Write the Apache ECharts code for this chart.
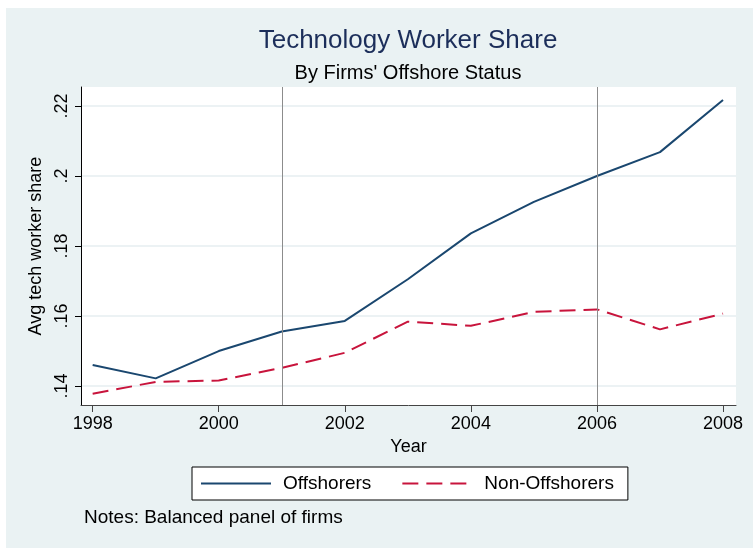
<!DOCTYPE html>
<html>
<head>
<meta charset="utf-8">
<script src="https://cdn.jsdelivr.net/npm/echarts@6/dist/echarts.min.js"></script>
<style>
  html, body { margin: 0; padding: 0; background: #fff; }
  #chart { width: 753px; height: 548px; }
</style>
</head>
<body>
<div id="chart"></div>
<script>
var years = [1998, 1999, 2000, 2001, 2002, 2003, 2004, 2005, 2006, 2007, 2008];
var offshorers = [0.1460, 0.1422, 0.1500, 0.1556, 0.1586, 0.1705, 0.1836, 0.1926, 0.2000, 0.2068, 0.2217];
var nonOffshorers = [0.1378, 0.1412, 0.1416, 0.1452, 0.1495, 0.1584, 0.1572, 0.1612, 0.1619, 0.1562, 0.1607];
var xTicks = [1998, 2000, 2002, 2004, 2006, 2008];
var yTicks = [0.14, 0.16, 0.18, 0.20, 0.22];
var eventYears = [2001, 2006];

var font = 'Liberation Sans, Arial, sans-serif';

function pairs(vals) {
    var out = [];
    for (var i = 0; i < years.length; i++) out.push([years[i], vals[i]]);
    return out;
}

var option = {
    backgroundColor: '#fff',
    animation: false,
    textStyle: { fontFamily: font },
    graphic: [
        { type: 'rect', z: -10, shape: { x: 6, y: 8, width: 747, height: 540 }, style: { fill: '#eaf2f3' } },
        { type: 'text', x: 408, y: 41, style: { text: 'Technology Worker Share', font: '26px ' + font, fill: '#1c2e5a', textAlign: 'center', textVerticalAlign: 'middle' } },
        { type: 'text', x: 408, y: 73, style: { text: "By Firms' Offshore Status", font: '20px ' + font, fill: '#000', textAlign: 'center', textVerticalAlign: 'middle' } },
        { type: 'text', x: 84, y: 518, style: { text: 'Notes: Balanced panel of firms', font: '19px ' + font, fill: '#000', textVerticalAlign: 'middle' } }
    ],
    legend: {
        left: 192, top: 467,
        backgroundColor: '#fff', borderColor: '#000', borderWidth: 1,
        padding: [7, 14, 7, 8],
        itemWidth: 70, itemHeight: 14, itemGap: 30,
        // hide the marker that line legends draw, keep only the line
        itemStyle: { color: 'rgba(0,0,0,0)', opacity: 0, borderWidth: 0 },
        textStyle: { fontFamily: font, fontSize: 19, color: '#000', padding: [0, 0, 0, 7] },
        data: ['Offshorers', 'Non-Offshorers']
    },
    grid: {
        left: 81, right: 17, top: 87, bottom: 143,
        show: true, backgroundColor: '#fff', borderWidth: 0
    },
    xAxis: {
        type: 'value', min: 1997.815, max: 2008.206,
        name: 'Year', nameLocation: 'middle', nameGap: 31,
        nameTextStyle: { fontFamily: font, fontSize: 18, color: '#000' },
        axisLine: { lineStyle: { color: '#444', width: 1 } },
        axisTick: { show: true, length: 7, lineStyle: { color: '#444' }, customValues: xTicks },
        axisLabel: { fontFamily: font, fontSize: 18, color: '#000', margin: 10, customValues: xTicks,
                     formatter: function (v) { return String(v); } },
        splitLine: { show: false }
    },
    yAxis: {
        type: 'value', min: 0.1346, max: 0.2254,
        name: 'Avg tech worker share', nameLocation: 'middle', nameGap: 33,
        nameTextStyle: { fontFamily: font, fontSize: 18, color: '#000' },
        axisLine: { show: true, lineStyle: { color: '#000', width: 1 } },
        axisTick: { show: true, length: 6, lineStyle: { color: '#000' }, customValues: yTicks },
        axisLabel: { fontFamily: font, fontSize: 18, color: '#000', rotate: 90, margin: 10, customValues: yTicks,
                     formatter: function (v) { return String(+v.toFixed(2)).replace(/^0/, ''); } },
        splitLine: { show: true, lineStyle: { color: '#e6eef0', width: 1.5 } }
    },
    series: [
        {
            name: 'Offshorers', type: 'line', symbol: 'none',
            data: pairs(offshorers),
            lineStyle: { color: '#1a476f', width: 2 },
            itemStyle: { color: '#1a476f' },
            markLine: {
                silent: true, symbol: 'none', label: { show: false },
                lineStyle: { color: '#8c8c8c', width: 1, type: 'solid' },
                data: eventYears.map(function (y) { return { xAxis: y }; })
            },
            z: 3
        },
        {
            name: 'Non-Offshorers', type: 'line', symbol: 'none',
            data: pairs(nonOffshorers),
            lineStyle: { color: '#c8143c', width: 2, type: [16, 8] },
            itemStyle: { color: '#c8143c' },
            z: 2
        }
    ]
};

var myChart = echarts.init(document.getElementById('chart'));
myChart.setOption(option);
</script>
</body>
</html>
